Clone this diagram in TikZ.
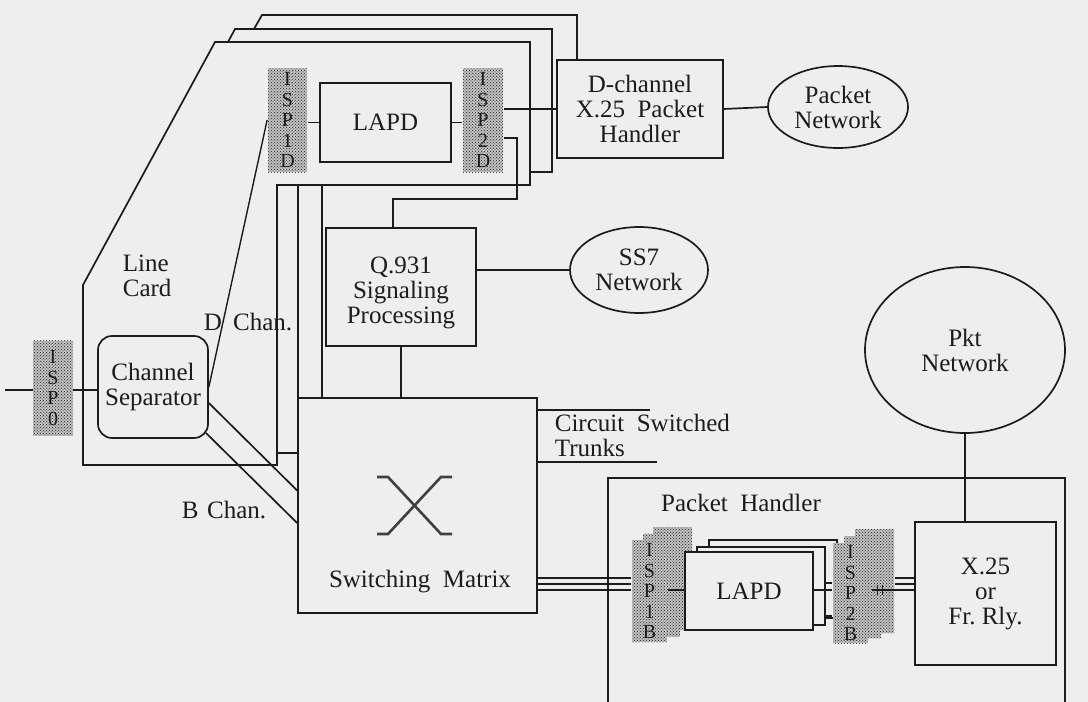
\documentclass[tikz,border=0pt]{standalone}
\usepackage{fontspec}
\setmainfont{Liberation Serif}
\usetikzlibrary{patterns,calc,shapes.geometric}
\definecolor{bg}{RGB}{238,238,238}
\definecolor{ink}{RGB}{28,28,28}
\begin{document}
\begin{tikzpicture}[x=1pt,y=-1pt,line width=1.7pt,color=ink,line join=miter,
  font=\fontsize{25}{25}\selectfont,
  box/.style={draw,fill=bg,rectangle,inner sep=0pt,align=center},
  oval/.style={draw,fill=bg,ellipse,inner sep=0pt,align=center},
  isp/.style={preaction={fill=gray!50},pattern=crosshatch dots,pattern color=black!85,inner sep=0pt,align=center,font=\fontsize{20}{20.5}\selectfont},
  lbl/.style={inner sep=0pt,align=left},
  tline/.style={line width=1.2pt}]
\fill[bg] (0,0) rectangle (1088,702);
\useasboundingbox (0,0) rectangle (1088,702);

% stacked line cards
\draw (254,29) -- (262,15) -- (577,15) -- (577,60);
\draw (228,42) -- (235,29) -- (552,29) -- (552,172) -- (530,172);
\draw (215,42) -- (530,42) -- (530,185) -- (277,185) -- (277,465) -- (83,465) -- (83,285) -- cycle;
\draw (298,185) -- (298,453) -- (277,453);
\draw (322,185) -- (322,398);
\node[lbl,anchor=west] (linecard) at (122,276) {Line\\Card};

% line card contents
\node[isp,minimum width=39,minimum height=104] (isp1d) at (287.5,120) {I\\S\\P\\1\\D};
\node[box,minimum width=131,minimum height=79] (lapd) at (385.5,122.5) {LAPD};
\node[isp,minimum width=40,minimum height=104] (isp2d) at (483,120) {I\\S\\P\\2\\D};
\node[box,minimum width=166,minimum height=98] (dch) at (640,109) {D-channel\\X.25\ \ Packet\\Handler};
\node[oval,minimum width=140,minimum height=82] (pnet) at (838,107) {Packet\\Network};
\node[box,minimum width=150,minimum height=118] (q931) at (401,287) {};
\node[lbl,align=center] (q931t) at (401,293) {Q.931\\Signaling\\Processing};
\node[oval,minimum width=138,minimum height=86] (ss7) at (639,270) {SS7\\Network};
\node[box,rounded corners=14,minimum width=110,minimum height=102] (chsep) at (153,387) {Channel\\Separator};
\node[box,minimum width=239,minimum height=215] (matrix) at (417.5,505.5) {};
\node (mlabel) at (420,582) {Switching\ \ Matrix};

% ISP0 and input
\coordinate (inp) at (5,390);
\draw[line width=2.4pt] (inp) -- (chsep.west |- inp);
\node[isp,minimum width=40,minimum height=95] (isp0) at (53,388) {I\\S\\P\\0};

% connectors in the line card
\draw (lapd.west -| isp1d.east) -- (lapd.west);
\draw (lapd.east) -- (lapd.east -| isp2d.west);
\draw (isp2d.east |- dch.west) -- (dch.west);
\draw ($(isp2d.east)+(0,18)$) -| (517,199) -| ($(q931.north)+(-8,0)$);
\draw (dch.east) -- (pnet.west);
\draw (q931.east |- ss7.west) -- (ss7.west);
\draw (q931.south) -- (q931.south |- matrix.north);
\draw[line width=1.4pt] (chsep.east) -- (isp1d.west);
\draw ($(chsep.east)+(0,16)$) -- ($(matrix.west)+(0,-15)$);
\draw ($(chsep.south east)+(-3,-6)$) -- ($(matrix.west)+(0,17.5)$);
\node[lbl] (dchan) at (248,322) {D\hspace{0.45em}Chan.};
\node[lbl] (bchan) at (224,510) {B\hspace{0.35em}Chan.};

% crossbar symbol
\draw[line width=2.6pt,black!75] (377,477) -- (388,477) -- (441,534) -- (452,534);
\draw[line width=2.6pt,black!75] (452,477) -- (441,477) -- (388,534) -- (377,534);

% trunks
\coordinate (t1) at (650,410);
\coordinate (t2) at (657,462);
\draw (matrix.east |- t1) -- (t1);
\draw (matrix.east |- t2) -- (t2);
\node[lbl,anchor=west] (trunks) at (554,435) {Circuit\ \ Switched\\Trunks};

% packet handler
\draw (608,712) -- (608,478) -- (1065,478) -- (1065,712);
\node[lbl] (phlabel) at (741,503) {Packet\ \ Handler};
\node[oval,minimum width=200,minimum height=166] (pkt) at (965,350) {Pkt\\Network};
\node[box,minimum width=141,minimum height=143] (xbox) at (985.5,593.5) {X.25\\or\\Fr.\ Rly.};
\draw (pkt.south) -- (pkt.south |- xbox.north);

\node[isp,minimum width=39,minimum height=103] (isp1bc) at (672.5,578.5) {};
\node[isp,minimum width=37,minimum height=103] (isp1bb) at (661.5,585) {};
\node[isp,minimum width=35,minimum height=102] (isp1b) at (649.5,591) {I\\S\\P\\1\\B};

\node[box,minimum width=128,minimum height=78] (lapdc) at (773,579) {};
\node[box,minimum width=128,minimum height=78] (lapdb) at (761,586) {};
\node[box,minimum width=128,minimum height=78] (lapda) at (749,591) {LAPD};

\node[isp,minimum width=39,minimum height=104] (isp2bc) at (874.5,581) {};
\node[isp,minimum width=37,minimum height=102] (isp2bb) at (862.5,587) {};
\node[isp,minimum width=35,minimum height=100] (isp2b) at (850.5,593) {I\\S\\P\\2\\B};

% packet handler connectors
\foreach \yy in {578,584,590}{
  \draw[tline] (matrix.east |- 0,\yy) -- (isp1b.west |- 0,\yy);
}
\draw[tline] (isp1b.east |- 0,590) -- (lapda.west |- 0,590);
\draw[tline] (lapda.east |- 0,590) -- (isp2b.west |- 0,590);
\draw[tline] (lapdb.east |- 0,583) -- (isp2b.west |- 0,583);
\draw[tline] (lapdb.east |- 0,616) -- (isp2b.west |- 0,616);
\draw[tline] (872,590) -- (xbox.west |- 0,590);
\draw[tline] (isp2bc.east |- 0,578) -- (xbox.west |- 0,578);
\draw[tline] (isp2bc.east |- 0,584) -- (xbox.west |- 0,584);
\draw[line width=0.9pt] (877,585) -- (877,595) (882,585) -- (882,595);
\end{tikzpicture}
\end{document}
